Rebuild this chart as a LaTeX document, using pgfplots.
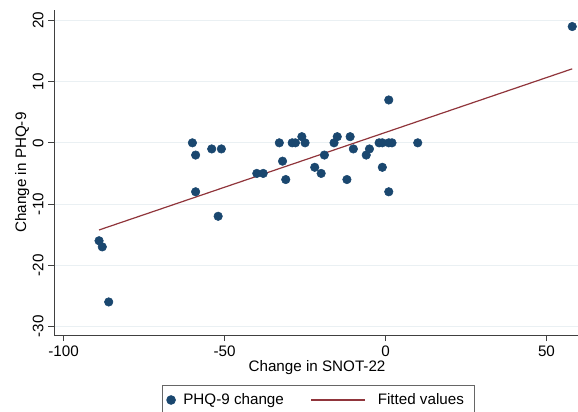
\documentclass[border=0pt]{standalone}
\usepackage{fontspec}
\setmainfont{Liberation Sans}
\usepackage{pgfplots}
\pgfplotsset{compat=1.18}

\definecolor{stnavy}{HTML}{1A476F}
\definecolor{stmaroon}{HTML}{90353B}
\definecolor{stgrid}{RGB}{234,240,243}

% PHQ-9 change vs SNOT-22 change
\pgfplotstableread{
x y
-89 -16
-88 -17
-86 -26
-60 0
-59 -2
-59 -8
-54 -1
-52 -12
-51 -1
-40 -5
-38 -5
-33 0
-32 -3
-31 -6
-29 0
-28 0
-26 1
-25 0
-22 -4
-20 -5
-19 -2
-16 0
-15 1
-12 -6
-11 1
-10 -1
-6 -2
-5 -1
-2 0
-1 0
-1 -4
1 0
2 0
1 7
1 -8
10 0
58 19
}\phqdata

\begin{document}
\begin{tikzpicture}[font=\fontsize{11.4}{13.7}\selectfont]
\begin{axis}[
  at={(40.73pt,-251.25pt)}, anchor=south west,
  scale only axis, width=392.8pt, height=243.75pt,
  xmin=-102.9, xmax=59.8, ymin=-31.4, ymax=21.7,
  axis x line*=bottom, axis y line*=left,
  axis line style={black!75, line width=0.75pt, -},
  xtick={-100,-50,0,50}, xticklabels={-100,-50,0,50},
  ytick={-30,-20,-10,0,10,20}, yticklabels={-30,-20,-10,0,10,20},
  tick align=outside, major tick length=4.5pt,
  tick style={black!75, line width=0.75pt},
  xticklabel style={anchor=base, inner sep=0pt, yshift=-11.25pt},
  yticklabel style={xshift=-3.75pt, rotate=90, anchor=base, inner sep=0pt},
  ymajorgrids, grid style={stgrid, line width=0.75pt},
  xlabel={Change in SNOT-22}, ylabel={Change in PHQ-9},
  xlabel style={at={(axis description cs:0.5016,-0.1138)}, anchor=base, inner sep=0pt},
  ylabel style={at={(axis description cs:-0.054,0.5)}, anchor=base, inner sep=0pt},
  clip=false,
  legend columns=2,
  legend cell align=left,
  legend style={at={(axis description cs:0.2062,-0.1538)}, anchor=north west,
    draw=black!60, line width=0.75pt, fill=white,
    inner xsep=3pt, inner ysep=6pt,
    nodes={inner sep=0pt},
    /tikz/every odd column/.append style={column sep=6pt},
    /tikz/every even column/.append style={column sep=20pt}},
]
\addplot[only marks, mark=*, mark size=3.2pt, color=stnavy,
  legend image code/.code={\draw[mark=*, mark size=3.2pt, stnavy] plot coordinates {(0pt,0pt)};}]
  table[x=x, y=y] {\phqdata};
\addlegendentry{PHQ-9 change}
\addplot[stmaroon, line width=0.9pt,
  legend image code/.code={\draw[stmaroon, line width=0.9pt] (0pt,0pt) -- (40.5pt,0pt); \path (43.5pt,0pt);}]
  coordinates {(-89,-14.24) (58,12.09)};
\addlegendentry{Fitted values\hspace*{5pt}}
\end{axis}
\pgfresetboundingbox
\useasboundingbox (0,0) rectangle (433.5pt,-308.25pt);
\end{tikzpicture}
\end{document}
